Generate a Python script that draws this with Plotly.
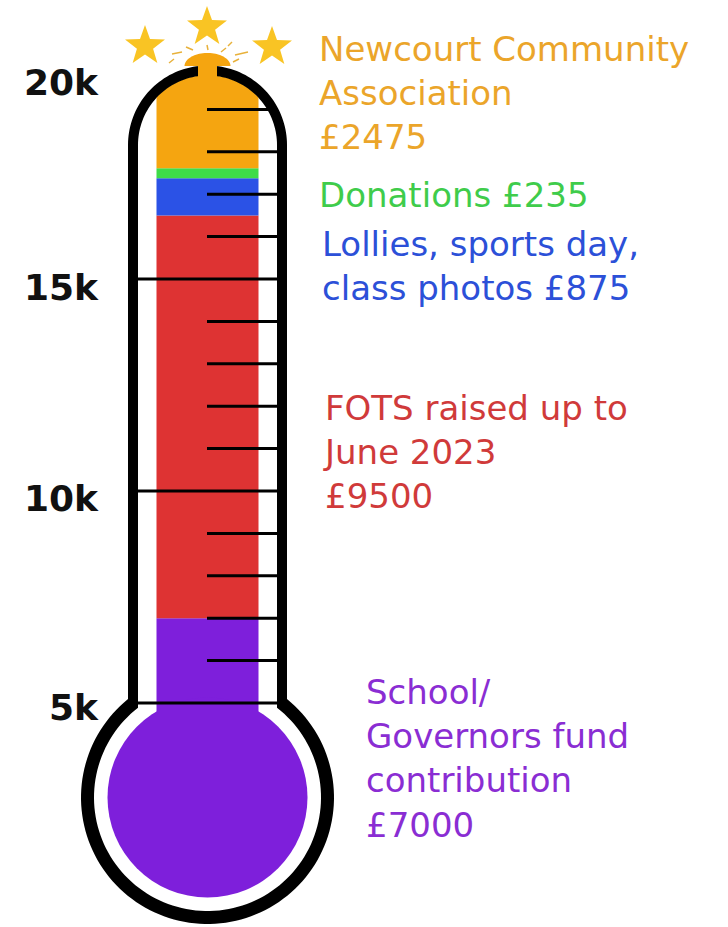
import numpy as np
import plotly.graph_objects as go

# ---------------- data ----------------
segment_names = [
    "School/Governors fund contribution",
    "FOTS raised up to June 2023",
    "Lollies, sports day, class photos",
    "Donations",
    "Newcourt Community Association",
]
segment_amounts = [7000, 9500, 875, 235, 2475]
segment_labels = [
    "School/<br>Governors fund<br>contribution<br>£7000",
    "FOTS raised up to<br>June 2023<br>£9500",
    "Lollies, sports day,<br>class photos £875",
    "Donations £235",
    "Newcourt Community<br>Association<br>£2475",
]
fill_colors = ["#7E1FDB", "#DE3333", "#2B52E6", "#3EDC48", "#F5A510"]
text_colors = ["#8A2DD3", "#D03A3A", "#2C50D8", "#3FCC4B", "#EBA52A"]
tick_vals = [5000, 10000, 15000, 20000]
tick_text = ["5k", "10k", "15k", "20k"]
minor_tick_vals = list(range(6000, 20000, 1000))

# ---------------- geometry helpers (pixel layout) ----------------
W, H = 728, 927
PX_PER_K = 42.4
Y5K_PX = 703.0


def V(p):
    """pixel row -> value on y axis"""
    return 5000 + (Y5K_PX - p) * 1000.0 / PX_PER_K


def path(points, close=True):
    s = "M " + " L ".join(f"{x:.2f},{V(y):.3f}" for x, y in points)
    return s + (" Z" if close else "")


def arc(cx, cy, r, a0, a1, n=60):
    a = np.radians(np.linspace(a0, a1, n))
    return list(zip(cx + r * np.cos(a), cy + r * np.sin(a)))


CX = 207.5
BAR_W = 102
DOME_CY = 145.0
BULB_CY = 797.5

tops = np.cumsum(segment_amounts)
bases = [V(790)] + list(tops[:-1])

fig = go.Figure()
for name, top, base, col in zip(segment_names, tops, bases, fill_colors):
    fig.add_trace(go.Bar(
        x=[CX], y=[top - base], base=[base], width=[BAR_W],
        marker=dict(color=col, line=dict(width=0)), name=name,
        hoverinfo="name",
    ))

shapes = []
# purple bulb fill
shapes.append(dict(type="circle", xref="x", yref="y",
                   x0=CX - 100, x1=CX + 100, y0=V(BULB_CY + 100), y1=V(BULB_CY - 100),
                   fillcolor=fill_colors[0], line=dict(width=0), layer="above"))

# white mask to clip the bar top into the dome
mr = 70.0
dx = 57.5
dy = np.degrees(np.arctan2(-np.sqrt(mr**2 - dx**2), dx))
mask_pts = [(150, 56), (265, 56)] + arc(CX, DOME_CY, mr, dy, -180 - dy) + [(150, 56)]
shapes.append(dict(type="path", xref="x", yref="y", path=path(mask_pts),
                   fillcolor="white", line=dict(width=0), layer="above"))

# tick marks
for v in minor_tick_vals:
    if v in tick_vals:
        continue
    shapes.append(dict(type="line", xref="x", yref="y", x0=207, x1=277, y0=v, y1=v,
                       line=dict(color="black", width=3), layer="above"))
for v in tick_vals[:3]:
    shapes.append(dict(type="line", xref="x", yref="y", x0=138, x1=277, y0=v, y1=v,
                       line=dict(color="black", width=3), layer="above"))

# thermometer outline (black ring)
RO, RI = 79.5, 69.5
BRO, BRI = 126.5, 113.5
xl_o, xr_o = CX - RO, CX + RO
xl_i, xr_i = CX - RI, CX + RI
yb_o = BULB_CY - np.sqrt(BRO**2 - RO**2)
yb_i = BULB_CY - np.sqrt(BRI**2 - RI**2)
ang_o = np.degrees(np.arctan2(yb_o - BULB_CY, RO))
ang_i = np.degrees(np.arctan2(yb_i - BULB_CY, RI))
outer = [(xl_o, DOME_CY)] + arc(CX, BULB_CY, BRO, 180 - ang_o, ang_o, 120) + \
        [(xr_o, DOME_CY)] + arc(CX, DOME_CY, RO, 0, -180, 80)
inner = [(xl_i, DOME_CY)] + arc(CX, BULB_CY, BRI, 180 - ang_i, ang_i, 120) + \
        [(xr_i, DOME_CY)] + arc(CX, DOME_CY, RI, 0, -180, 80)
shapes.append(dict(type="path", xref="x", yref="y",
                   path=path(outer) + " " + path(inner),
                   fillcolor="black", line=dict(width=0), layer="above"))

# orange blob through the top of the dome
blob = arc(CX, 66, 23, 180, 360, 40)
blob = [(x, 66 + (y - 66) * 13 / 23) for x, y in blob] + [(217, 66), (217, 84), (198, 84), (198, 66)]
shapes.append(dict(type="path", xref="x", yref="y", path=path(blob),
                   fillcolor=fill_colors[4], line=dict(width=0), layer="above"))

# sparkle dashes
for (x0, y0, x1, y1) in [(169, 63, 174, 59), (172, 54, 182, 52), (186, 47, 193, 50),
                         (207, 45, 208, 50), (221, 52, 226, 48), (228, 46, 232, 42),
                         (235, 55, 248, 52), (233, 62, 239, 59)]:
    shapes.append(dict(type="line", xref="x", yref="y", x0=x0, x1=x1, y0=V(y0), y1=V(y1),
                       line=dict(color="#E8B13A", width=1.5), layer="above"))


# stars
def star(cx, cy, R, r):
    pts = []
    for k in range(10):
        a = np.radians(-90 + 36 * k)
        rad = R if k % 2 == 0 else r
        pts.append((cx + rad * np.cos(a), cy + rad * np.sin(a)))
    return pts


for (sx, sy) in [(145, 46), (207, 27), (272, 47)]:
    shapes.append(dict(type="path", xref="x", yref="y", path=path(star(sx, sy, 21, 8.5)),
                       fillcolor="#F9C424", line=dict(width=0), layer="above"))

annotations = []
# axis labels
label_px = [705, 496, 285, 80]
for v, t, lp in zip(tick_vals, tick_text, label_px):
    tick_px = Y5K_PX - (v - 5000) * PX_PER_K / 1000
    annotations.append(dict(x=101, y=v, xref="x", yref="y", text=t, showarrow=False,
                            xanchor="right", yanchor="middle", yshift=-(lp - tick_px) - 2,
                            font=dict(family="DejaVu Sans", size=36, color="#111111", weight="bold")))

# segment labels
label_pos = [(364, 758), (321, 452), (320, 266), (317, 195), (317, 93)]
for txt, col, (lx, ly) in zip(segment_labels, text_colors, label_pos):
    annotations.append(dict(x=lx, y=V(ly), xref="x", yref="y", text=txt, showarrow=False,
                            xanchor="left", yanchor="middle", align="left",
                            font=dict(family="DejaVu Sans", size=34, color=col)))

fig.update_layout(
    width=W, height=H,
    margin=dict(l=0, r=0, t=0, b=0),
    paper_bgcolor="white", plot_bgcolor="white",
    barmode="overlay", showlegend=False,
    xaxis=dict(range=[0, W], visible=False, fixedrange=True),
    yaxis=dict(range=[V(H), V(0)], visible=False, fixedrange=True),
    shapes=shapes, annotations=annotations,
)

fig.write_html("out.html", config={"displayModeBar": False},
               post_script="document.body.style.margin='0';document.body.style.overflow='hidden';")
